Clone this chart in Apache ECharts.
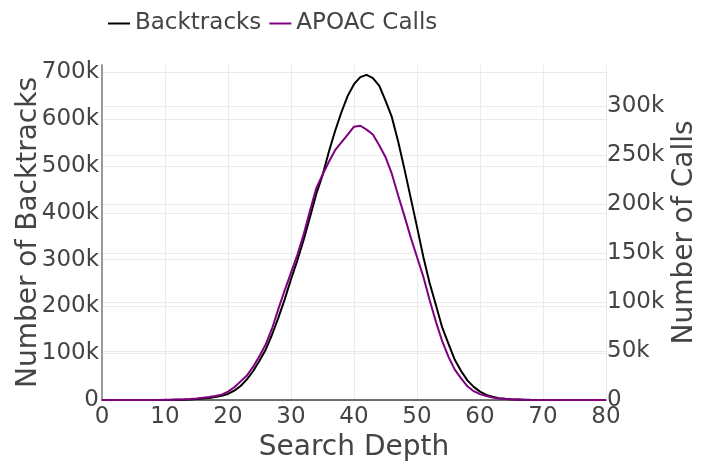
<!DOCTYPE html>
<html>
<head>
<meta charset="utf-8">
<script src="https://cdn.jsdelivr.net/npm/echarts@6/dist/echarts.min.js"></script>
<style>
html,body{margin:0;padding:0;background:#fff;}
#c{width:707px;height:461px;}
</style>
</head>
<body>
<div id="c"></div>
<script>
// Search depth 0..80
const depths = [];
for (let d = 0; d <= 80; d++) depths.push(d);

// Number of backtracks (thousands), depth 0..80
const backtracksK = [
  0,0,0,0,0,0,0,0,0,0,                    // 0-9
  0.2,0.3,0.5,0.8,1.3,2,3,4.5,6.5,9,      // 10-19
  13,20,30,44,62,84,108,140,176,215,      // 20-29
  258,298,342,390,440,480,530,575,615,650, // 30-39
  675,690,695,688,672,640,605,553,494,432, // 40-49
  370,306,250,203,155,120,86,62,42,28,    // 50-59
  18,11,7,4,2.5,1.5,1,0.5,0.3,0.2,        // 60-69
  0,0,0,0,0,0,0,0,0,0,0                   // 70-80
];

// Number of APOAC calls (thousands), depth 0..80
const callsK = [
  0,0,0,0,0,0,0,0,0,0,
  0.2,0.3,0.5,0.7,1,1.5,2.2,3,4,5.5,
  8.5,13,19,25,34,45,57,73,93,112,
  130,148,169,193,216,230,243,255,263,271,
  279,280,276,271,260,248,231,209,188,166,
  146,126,102,80,60,44,31,22,14,9,
  6,4,2.5,1.5,1,0.6,0.4,0.2,0.1,0.1,
  0,0,0,0,0,0,0,0,0,0,0
];

const seriesNames = ['Backtracks', 'APOAC Calls'];
const seriesColors = ['#000000', '#800080'];

const fmtK = v => v === 0 ? '0' : (v / 1000) + 'k';
const txt = '#444';
const font = 'DejaVu Sans';

const chart = echarts.init(document.getElementById('c'), null, {renderer: 'canvas'});
chart.setOption({
  animation: false,
  backgroundColor: '#fff',
  textStyle: {fontFamily: font, color: txt},
  legend: {
    left: 103, top: 7,
    icon: 'rect', itemWidth: 22, itemHeight: 2, itemGap: 8,
    textStyle: {fontFamily: font, fontSize: 23, color: txt},
    data: seriesNames
  },
  grid: {left: 102, right: 101, top: 65, bottom: 61, containLabel: false, outerBoundsMode: 'none'},
  xAxis: {
    type: 'value', min: 0, max: 80, interval: 10,
    name: 'Search Depth', nameLocation: 'middle', nameGap: 34, nameMoveOverlap: false,
    nameTextStyle: {fontFamily: font, fontSize: 28, color: txt},
    axisLine: {show: true, onZero: false, lineStyle: {color: '#444', width: 1.5}},
    axisTick: {show: false},
    axisLabel: {fontFamily: font, fontSize: 23, color: txt, margin: 6},
    splitLine: {show: true, lineStyle: {color: '#ebebeb', width: 1}}
  },
  yAxis: [{
    type: 'value', min: 0, max: 716000, interval: 100000,
    name: 'Number of Backtracks', nameLocation: 'middle', nameGap: 59, nameMoveOverlap: false,
    nameTextStyle: {fontFamily: font, fontSize: 28, color: txt},
    axisLine: {show: true, lineStyle: {color: '#999', width: 2}},
    axisTick: {show: false},
    axisLabel: {fontFamily: font, fontSize: 23, color: txt, margin: 3, formatter: fmtK, showMaxLabel: false},
    splitLine: {show: true, showMaxLine: false, lineStyle: {color: '#ebebeb', width: 1}}
  }, {
    type: 'value', min: 0, max: 342000, interval: 50000, position: 'right',
    name: 'Number of Calls', nameLocation: 'middle', nameGap: 65, nameRotate: 90, nameMoveOverlap: false,
    nameTextStyle: {fontFamily: font, fontSize: 28, color: txt},
    axisLine: {show: false},
    axisTick: {show: false},
    axisLabel: {fontFamily: font, fontSize: 23, color: txt, margin: 1, formatter: fmtK, showMaxLabel: false},
    splitLine: {show: true, showMaxLine: false, lineStyle: {color: '#ebebeb', width: 1}}
  }],
  series: [{
    name: seriesNames[0], type: 'line', yAxisIndex: 0, symbol: 'none',
    color: seriesColors[0], lineStyle: {width: 2, color: seriesColors[0]},
    data: depths.map((d, i) => [d, backtracksK[i] * 1000])
  }, {
    name: seriesNames[1], type: 'line', yAxisIndex: 1, symbol: 'none',
    color: seriesColors[1], lineStyle: {width: 2, color: seriesColors[1]},
    data: depths.map((d, i) => [d, callsK[i] * 1000])
  }]
});
</script>
</body>
</html>
